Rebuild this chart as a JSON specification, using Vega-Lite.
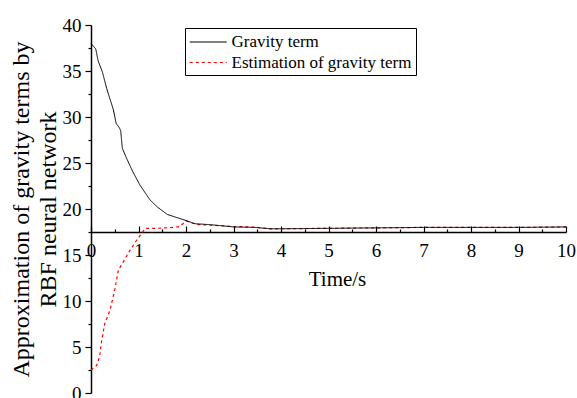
{
  "$schema": "https://vega.github.io/schema/vega-lite/v6.json",
  "width": 475,
  "height": 368,
  "autosize": "none",
  "padding": {"left": 91, "top": 25, "right": 11, "bottom": 5},
  "background": "white",
  "config": {
    "view": {"stroke": null},
    "font": "Liberation Serif",
    "axis": {
      "grid": false,
      "domainColor": "black",
      "tickColor": "black",
      "labelColor": "black",
      "titleColor": "black",
      "labelFont": "Liberation Serif",
      "titleFont": "Liberation Serif",
      "titleFontWeight": "normal",
      "labelFlush": false,
      "labelOverlap": false,
      "domainWidth": 1.5,
      "tickWidth": 1.2
    }
  },
  "data": {
    "values": [
      {"t": 0, "value": 38.0, "series": "Gravity term"},
      {"t": 0.05, "value": 37.7, "series": "Gravity term"},
      {"t": 0.1, "value": 37.4, "series": "Gravity term"},
      {"t": 0.15, "value": 36.1, "series": "Gravity term"},
      {"t": 0.24, "value": 34.9, "series": "Gravity term"},
      {"t": 0.33, "value": 33.1, "series": "Gravity term"},
      {"t": 0.44, "value": 31.3, "series": "Gravity term"},
      {"t": 0.47, "value": 30.8, "series": "Gravity term"},
      {"t": 0.53, "value": 29.3, "series": "Gravity term"},
      {"t": 0.6, "value": 28.8, "series": "Gravity term"},
      {"t": 0.625, "value": 28.5, "series": "Gravity term"},
      {"t": 0.66, "value": 26.6, "series": "Gravity term"},
      {"t": 0.75, "value": 25.5, "series": "Gravity term"},
      {"t": 0.88, "value": 24.05, "series": "Gravity term"},
      {"t": 1.03, "value": 22.6, "series": "Gravity term"},
      {"t": 1.24, "value": 21.0, "series": "Gravity term"},
      {"t": 1.4, "value": 20.2, "series": "Gravity term"},
      {"t": 1.61, "value": 19.4, "series": "Gravity term"},
      {"t": 2.0, "value": 18.75, "series": "Gravity term"},
      {"t": 2.19, "value": 18.4, "series": "Gravity term"},
      {"t": 2.5, "value": 18.3, "series": "Gravity term"},
      {"t": 3.0, "value": 18.05, "series": "Gravity term"},
      {"t": 3.44, "value": 18.0, "series": "Gravity term"},
      {"t": 3.77, "value": 17.85, "series": "Gravity term"},
      {"t": 4.0, "value": 17.85, "series": "Gravity term"},
      {"t": 5.0, "value": 17.9, "series": "Gravity term"},
      {"t": 6.0, "value": 17.95, "series": "Gravity term"},
      {"t": 7.0, "value": 18.0, "series": "Gravity term"},
      {"t": 8.0, "value": 18.0, "series": "Gravity term"},
      {"t": 9.0, "value": 18.0, "series": "Gravity term"},
      {"t": 10.0, "value": 18.05, "series": "Gravity term"},
      {"t": 0, "value": 2.5, "series": "Estimation of gravity term"},
      {"t": 0.12, "value": 3.0, "series": "Estimation of gravity term"},
      {"t": 0.17, "value": 3.8, "series": "Estimation of gravity term"},
      {"t": 0.19, "value": 4.3, "series": "Estimation of gravity term"},
      {"t": 0.225, "value": 5.7, "series": "Estimation of gravity term"},
      {"t": 0.29, "value": 7.55, "series": "Estimation of gravity term"},
      {"t": 0.4, "value": 9.0, "series": "Estimation of gravity term"},
      {"t": 0.5, "value": 11.2, "series": "Estimation of gravity term"},
      {"t": 0.575, "value": 13.35, "series": "Estimation of gravity term"},
      {"t": 0.68, "value": 14.25, "series": "Estimation of gravity term"},
      {"t": 0.82, "value": 15.5, "series": "Estimation of gravity term"},
      {"t": 0.96, "value": 16.6, "series": "Estimation of gravity term"},
      {"t": 1.1, "value": 17.6, "series": "Estimation of gravity term"},
      {"t": 1.14, "value": 17.9, "series": "Estimation of gravity term"},
      {"t": 1.38, "value": 17.9, "series": "Estimation of gravity term"},
      {"t": 1.73, "value": 18.0, "series": "Estimation of gravity term"},
      {"t": 1.87, "value": 18.1, "series": "Estimation of gravity term"},
      {"t": 2.0, "value": 18.7, "series": "Estimation of gravity term"},
      {"t": 2.1, "value": 18.5, "series": "Estimation of gravity term"},
      {"t": 2.26, "value": 18.3, "series": "Estimation of gravity term"},
      {"t": 2.5, "value": 18.25, "series": "Estimation of gravity term"},
      {"t": 3.0, "value": 18.1, "series": "Estimation of gravity term"},
      {"t": 3.35, "value": 18.05, "series": "Estimation of gravity term"},
      {"t": 3.5, "value": 18.0, "series": "Estimation of gravity term"},
      {"t": 3.77, "value": 17.85, "series": "Estimation of gravity term"},
      {"t": 4.0, "value": 17.85, "series": "Estimation of gravity term"},
      {"t": 5.0, "value": 17.9, "series": "Estimation of gravity term"},
      {"t": 6.0, "value": 17.95, "series": "Estimation of gravity term"},
      {"t": 7.0, "value": 18.0, "series": "Estimation of gravity term"},
      {"t": 8.0, "value": 18.0, "series": "Estimation of gravity term"},
      {"t": 9.0, "value": 18.0, "series": "Estimation of gravity term"},
      {"t": 10.0, "value": 18.05, "series": "Estimation of gravity term"}
    ]
  },
  "encoding": {
    "x": {
      "field": "t",
      "type": "quantitative",
      "scale": {"domain": [0, 10], "nice": false},
      "axis": {
        "title": "Time/s",
        "values": [0, 0.5, 1, 1.5, 2, 2.5, 3, 3.5, 4, 4.5, 5, 5.5, 6, 6.5, 7, 7.5, 8, 8.5, 9, 9.5, 10],
        "labelExpr": "datum.value % 1 === 0 ? format(datum.value, 'd') : ''",
        "offset": -161,
        "tickSize": {"condition": {"test": "datum.value % 1 === 0", "value": -6}, "value": -3},
        "labelPadding": 15,
        "labelFontSize": 19,
        "titleFontSize": 21,
        "titlePadding": 5,
        "titleX": 246
      }
    },
    "y": {
      "field": "value",
      "type": "quantitative",
      "scale": {"domain": [0, 40], "nice": false},
      "axis": {
        "title": ["Approximation of gravity terms by", "RBF neural network"],
        "values": [0, 2.5, 5, 7.5, 10, 12.5, 15, 17.5, 20, 22.5, 25, 27.5, 30, 32.5, 35, 37.5, 40],
        "labelExpr": "datum.value % 5 === 0 ? format(datum.value, 'd') : ''",
        "tickSize": {"condition": {"test": "datum.value % 5 === 0", "value": 6}, "value": 3},
        "labelPadding": 4,
        "labelFontSize": 19,
        "titleFontSize": 24,
        "titleLineHeight": 27,
        "titlePadding": 2
      }
    },
    "color": {
      "field": "series",
      "type": "nominal",
      "scale": {"domain": ["Gravity term", "Estimation of gravity term"], "range": ["black", "red"]},
      "legend": {
        "title": null,
        "orient": "none",
        "legendX": 94,
        "legendY": 3,
        "symbolType": "M-1,0L3,0",
        "symbolSize": 342,
        "symbolStrokeWidth": 1.2,
        "labelFont": "Liberation Serif",
        "labelFontSize": 17,
        "labelColor": "black",
        "labelLimit": 300,
        "labelOffset": 22.5,
        "strokeColor": "black",
        "fillColor": "white",
        "padding": 4,
        "rowPadding": 2.5
      }
    },
    "strokeDash": {
      "field": "series",
      "type": "nominal",
      "scale": {"domain": ["Gravity term", "Estimation of gravity term"], "range": [[1, 0], [3, 3]]},
      "legend": {
        "title": null,
        "orient": "none",
        "legendX": 94,
        "legendY": 3,
        "symbolType": "M-1,0L3,0",
        "symbolSize": 342,
        "symbolStrokeWidth": 1.2,
        "labelFont": "Liberation Serif",
        "labelFontSize": 17,
        "labelColor": "black",
        "labelLimit": 300,
        "labelOffset": 22.5,
        "strokeColor": "black",
        "fillColor": "white",
        "padding": 4,
        "rowPadding": 2.5
      }
    }
  },
  "layer": [
    {
      "transform": [{"filter": "datum.series === 'Estimation of gravity term'"}],
      "mark": {"type": "line", "strokeWidth": 1.2}
    },
    {
      "transform": [{"filter": "datum.series === 'Gravity term'"}],
      "mark": {"type": "line", "strokeWidth": 1}
    }
  ]
}
